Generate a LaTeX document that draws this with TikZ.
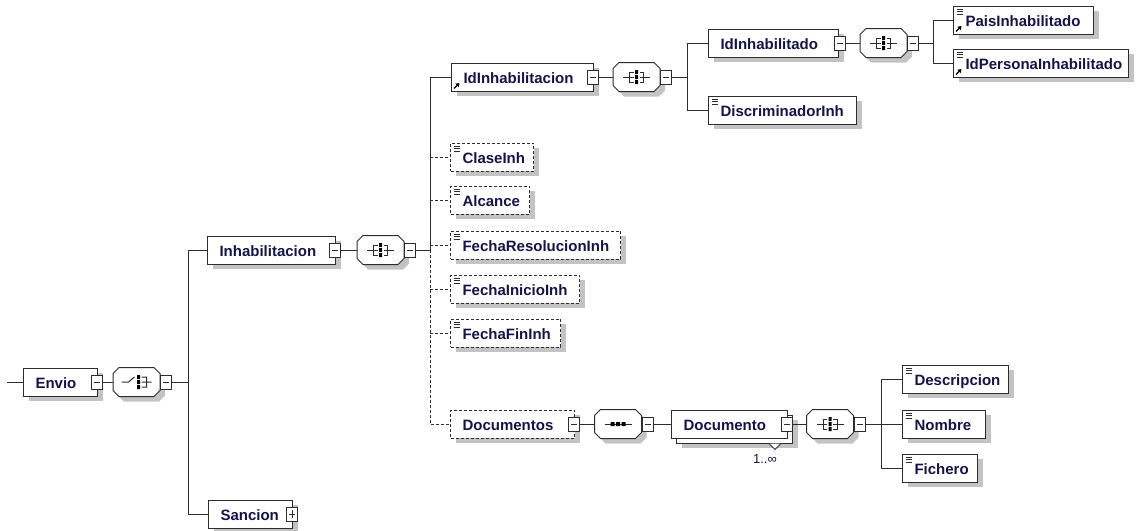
\documentclass[tikz,border=0pt]{standalone}
\usepackage{fontspec}
\setmainfont{Liberation Sans}
\usetikzlibrary{positioning,shadows,arrows.meta}

\definecolor{linecol}{RGB}{45,45,45}
\definecolor{textcol}{RGB}{20,20,75}
\definecolor{shadecol}{RGB}{195,195,195}

\newcommand{\elemfont}{\fontsize{15}{18}\selectfont\bfseries}
\newcommand{\simpleicon}{\draw[solid, linecol, line width=0.8pt]
  ([xshift=3pt,yshift=-3pt]path picture bounding box.north west) -- ++(6pt,0pt)
  ([xshift=3pt,yshift=-5.5pt]path picture bounding box.north west) -- ++(6pt,0pt)
  ([xshift=3pt,yshift=-8pt]path picture bounding box.north west) -- ++(6pt,0pt);}
\newcommand{\reficon}{\draw[solid, black, line width=1.3pt, -{Triangle[length=3.5pt,width=4.5pt]}]
  ([xshift=2.5pt,yshift=2.5pt]path picture bounding box.south west) -- ++(5.5pt,5.5pt);}

\tikzset{
  elembase/.style={draw=linecol, line width=1pt, fill=white, anchor=west,
    minimum height=28pt, inner xsep=0pt, inner ysep=0pt, text width=#1,
    align=left, text height=13pt, text depth=0pt, font=\elemfont, text=textcol,
    execute at begin node={\hspace*{12pt}}},
  elem/.style={elembase=#1, drop shadow={shadow xshift=5pt, shadow yshift=-5pt,
    fill=shadecol, opacity=1}},
  opt/.style={dash pattern=on 3pt off 2pt},
  simp/.style={path picture={\simpleicon}},
  refd/.style={path picture={\reficon}},
  simprefd/.style={path picture={\simpleicon\reficon}},
  collapse/.style={draw=linecol, line width=0.9pt, fill=white, solid,
    minimum width=11pt, minimum height=14pt, inner sep=0pt,
    path picture={\draw[solid, linecol, line width=0.9pt]
      ([xshift=2.5pt]path picture bounding box.west) -- ([xshift=-2.5pt]path picture bounding box.east);}},
  expand/.style={collapse,
    path picture={\draw[solid, linecol, line width=0.9pt]
      ([xshift=2.5pt]path picture bounding box.west) -- ([xshift=-2.5pt]path picture bounding box.east)
      ([yshift=-3pt]path picture bounding box.north) -- ([yshift=3pt]path picture bounding box.south);}},
  cnode/.style={minimum width=47pt, minimum height=29pt, inner sep=0pt},
  conn/.style={linecol, line width=1pt},
  occ/.style={font=\fontsize{13}{15}\selectfont, text=textcol, inner sep=0pt},
  pics/octo/.style={code={
    \fill[shadecol, shift={(5,5)}] (-17.5,-14.5) -- (17.5,-14.5) -- (23.5,-8.5) -- (23.5,8.5)
      -- (17.5,14.5) -- (-17.5,14.5) -- (-23.5,8.5) -- (-23.5,-8.5) -- cycle;
    \draw[linecol, line width=1pt, fill=white] (-17.5,-14.5) -- (17.5,-14.5) -- (23.5,-8.5) -- (23.5,8.5)
      -- (17.5,14.5) -- (-17.5,14.5) -- (-23.5,8.5) -- (-23.5,-8.5) -- cycle;
  }},
  pics/allsym/.style={code={
    \draw[linecol, line width=1pt] (-13.5,0) -- (-3,0) (3,0) -- (13.5,0)
      (-3,-5) -- (-7,-5) -- (-7,5) -- (-3,5) (3,-5) -- (7,-5) -- (7,5) -- (3,5);
    \fill[black] (-1.5,-7) rectangle (1.5,-3) (-1.5,-2) rectangle (1.5,2) (-1.5,3) rectangle (1.5,7);
  }},
  pics/choicesym/.style={code={
    \draw[linecol, line width=1pt] (-15,0) -- (-8,0) -- (-2,-5)
      (5,0) -- (15,0) (5,-5) -- (10,-5) -- (10,5) -- (5,5);
    \fill[black] (0.5,-7) rectangle (3.5,-3) (0.5,-2) rectangle (3.5,2) (0.5,3) rectangle (3.5,7);
  }},
  pics/seqsym/.style={code={
    \draw[linecol, line width=1pt] (-13.5,0) -- (13.5,0);
    \fill[black] (-7.5,-2) rectangle (-3.5,2) (-2,-2) rectangle (2,2) (3.5,-2) rectangle (7.5,2);
  }}
}

\begin{document}
\begin{tikzpicture}[x=1pt, y=-1pt]
  \useasboundingbox (0,0) rectangle (1137,530);

  % root
  \coordinate (root) at (7,382);
  \node[elem=74pt] (envio) at (23,382) {Envio};
  \node[collapse] (envio-m) at ([xshift=-1pt]envio.east) {};
  \node[cnode] (c1) at (136.5,382) {};
  \pic at (c1) {octo};
  \pic at (c1) {choicesym};
  \node[collapse] (c1-m) at ([xshift=6pt]c1.east) {};
  \coordinate (bus1) at (188,382);

  % Inhabilitacion
  \node[elem=128pt] (inhab) at (207,250) {Inhabilitacion};
  \node[collapse] (inhab-m) at ([xshift=-1pt]inhab.east) {};
  \node[cnode] (c2) at (380.5,250) {};
  \pic at (c2) {octo};
  \pic at (c2) {allsym};
  \node[collapse] (c2-m) at ([xshift=6pt]c2.east) {};
  \coordinate (bus2) at (430,250);

  \node[elem=84pt] (sancion) at (208,514) {Sancion};
  \node[expand] (sancion-p) at ([xshift=-1pt]sancion.east) {};

  % IdInhabilitacion
  \node[elem=142pt, refd] (idinh) at (451,77) {IdInhabilitacion};
  \node[collapse] (idinh-m) at ([xshift=-1pt]idinh.east) {};
  \node[cnode] (c3) at (636.5,77) {};
  \pic at (c3) {octo};
  \pic at (c3) {allsym};
  \node[collapse] (c3-m) at ([xshift=6pt]c3.east) {};
  \coordinate (bus3) at (687,77);

  \node[elem=130pt] (idinhd) at (708,43) {IdInhabilitado};
  \node[collapse] (idinhd-m) at ([xshift=1pt]idinhd.east) {};
  \node[cnode] (c4) at (883.5,43) {};
  \pic at (c4) {octo};
  \pic at (c4) {allsym};
  \node[collapse] (c4-m) at ([xshift=6pt]c4.east) {};
  \coordinate (bus4) at (933,43);
  \node[elem=140pt, simprefd] (pais) at (953,20) {PaisInhabilitado};
  \node[elem=175pt, simprefd] (idpers) at (953,63) {IdPersonaInhabilitado};
  \node[elem=148pt, simp] (discr) at (708,110) {DiscriminadorInh};

  % optional children
  \node[elem=83pt, opt, simp] (clase) at (450,157) {ClaseInh};
  \node[elem=79pt, opt, simp] (alcance) at (450,200) {Alcance};
  \node[elem=170pt, opt, simp] (fres) at (450,245) {FechaResolucionInh};
  \node[elem=129pt, opt, simp] (fini) at (450,289) {FechaInicioInh};
  \node[elem=110pt, opt, simp] (ffin) at (450,333) {FechaFinInh};

  % Documentos
  \node[elem=124pt, opt] (docs) at (450,424) {Documentos};
  \node[collapse] (docs-m) at ([xshift=-1pt]docs.east) {};
  \node[cnode] (c5) at (618,424) {};
  \pic at (c5) {octo};
  \pic at (c5) {seqsym};
  \node[collapse] (c5-m) at ([xshift=6pt]c5.east) {};
  \node[elem=116pt] (docback) at (676,429) {};
  \node[elembase=116pt] (doc) at (671,424) {Documento};
  \node[collapse] (doc-m) at ([xshift=-1pt]doc.east) {};
  \draw[conn, fill=white] ([xshift=-24pt]docback.south east) -- ++(6,6) -- ++(6,-6);
  \node[occ] (doc-occ) at (765,459) {1..∞};
  \node[cnode] (c6) at (830,424) {};
  \pic at (c6) {octo};
  \pic at (c6) {allsym};
  \node[collapse] (c6-m) at ([xshift=6pt]c6.east) {};
  \coordinate (bus5) at (881,424);
  \node[elem=106pt, simp] (descr) at (902,379) {Descripcion};
  \node[elem=83pt, simp] (nombre) at (902,424) {Nombre};
  \node[elem=75pt, simp] (fichero) at (902,468) {Fichero};

  % connectors
  \draw[conn] (root) -- (envio);
  \draw[conn] (envio-m) -- (c1);
  \draw[conn] (c1-m) -- (bus1);
  \draw[conn] (bus1) |- (inhab);
  \draw[conn] (bus1) |- (sancion);
  \draw[conn] (inhab-m) -- (c2);
  \draw[conn] (c2-m) -- (bus2);
  \draw[conn] (bus2) |- (idinh);
  \draw[conn, opt] (bus2) |- (docs);
  \foreach \n in {clase, alcance, fres, fini, ffin}
    \draw[conn, opt] (\n.west -| bus2) -- (\n);
  \draw[conn] (idinh-m) -- (c3);
  \draw[conn] (c3-m) -- (bus3);
  \draw[conn] (bus3) |- (idinhd);
  \draw[conn] (bus3) |- (discr);
  \draw[conn] (idinhd-m) -- (c4);
  \draw[conn] (c4-m) -- (bus4);
  \draw[conn] (bus4) |- (pais);
  \draw[conn] (bus4) |- (idpers);
  \draw[conn] (docs-m) -- (c5);
  \draw[conn] (c5-m) -- (doc);
  \draw[conn] (doc-m) -- (c6);
  \draw[conn] (c6-m) -- (bus5);
  \foreach \n in {descr, nombre, fichero}
    \draw[conn] (bus5) |- (\n);
\end{tikzpicture}
\end{document}
